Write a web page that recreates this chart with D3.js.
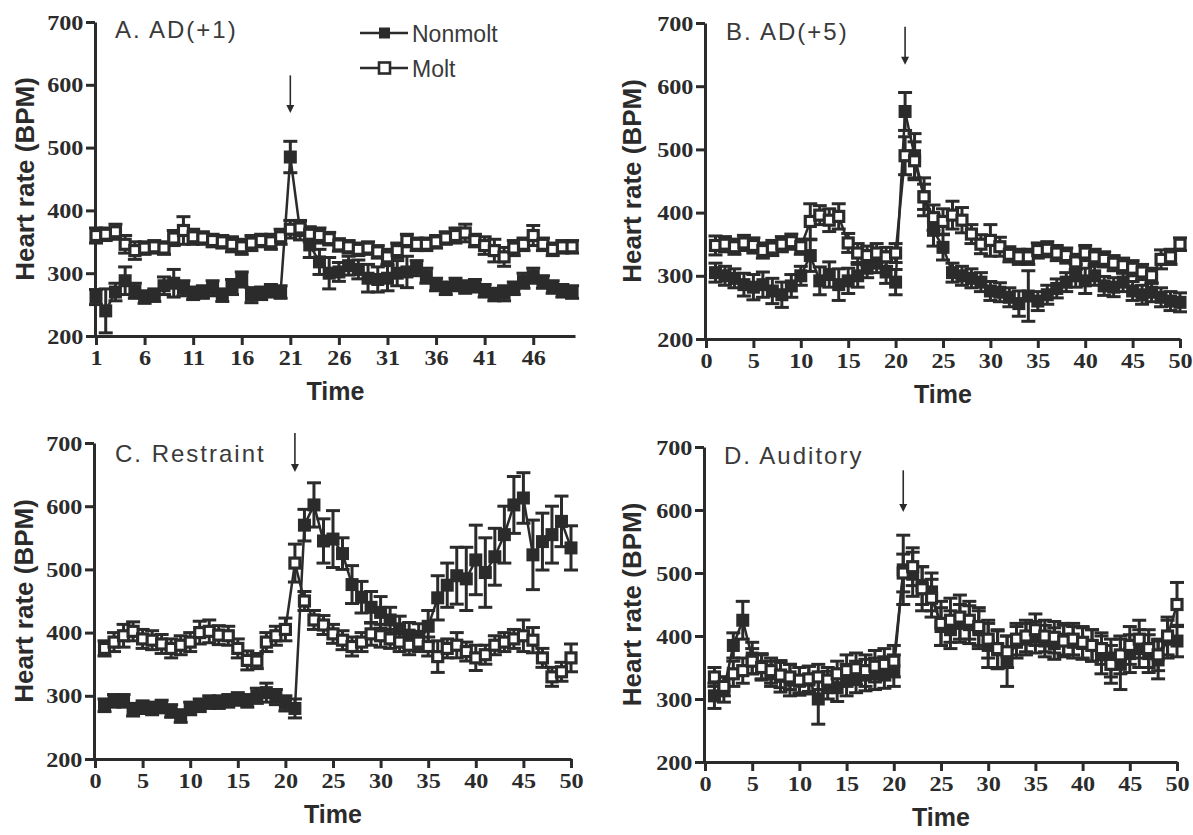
<!DOCTYPE html>
<html>
<head>
<meta charset="utf-8">
<script src="https://cdn.jsdelivr.net/npm/d3@7"></script>
<style>
  body { margin: 0; background: #fff; }
  svg { display: block; }
</style>
</head>
<body>
<div id="chart"></div>
<script>
// time points (minutes) and tick labels
const timePoints = d3.range(1, 51);
const xTicksA = [1, 6, 11, 16, 21, 26, 31, 36, 41, 46];
const xTicksBCD = [0, 5, 10, 15, 20, 25, 30, 35, 40, 45, 50];
const yTicks = [200, 300, 400, 500, 600, 700];
const seriesNames = ["Nonmolt", "Molt"];

// A. AD(+1)
const aNonmolt = [262, 240, 270, 288, 272, 262, 265, 280, 284, 276, 268, 270, 276, 265, 278, 290, 265, 268, 272, 270,
  485, 368, 345, 318, 300, 302, 312, 306, 292, 290, 292, 300, 302, 308, 296, 282, 276, 282, 278, 280,
  272, 266, 268, 276, 288, 296, 286, 278, 272, 270];
const aNonmoltErr = [12, 35, 14, 22, 12, 10, 10, 14, 22, 12, 10, 10, 12, 10, 12, 12, 12, 10, 10, 10,
  25, 15, 20, 20, 25, 15, 15, 15, 22, 20, 20, 20, 25, 12, 12, 10, 10, 10, 10, 10,
  10, 10, 12, 10, 12, 12, 10, 10, 10, 10];
const aMolt = [360, 362, 366, 346, 336, 340, 342, 340, 356, 368, 358, 356, 352, 350, 346, 342, 348, 352, 350, 358,
  370, 372, 362, 360, 355, 345, 342, 338, 340, 334, 326, 336, 352, 346, 346, 350, 356, 360, 364, 352,
  344, 336, 326, 340, 346, 360, 346, 338, 342, 342];
const aMoltErr = [12, 10, 12, 14, 14, 10, 10, 10, 12, 22, 12, 10, 10, 10, 12, 12, 12, 10, 12, 12,
  14, 12, 12, 12, 10, 10, 10, 10, 10, 10, 12, 12, 10, 10, 10, 10, 10, 12, 14, 10,
  14, 18, 15, 12, 10, 16, 10, 10, 10, 10];

// B. AD(+5)
const bNonmolt = [305, 300, 296, 286, 282, 286, 276, 270, 284, 300, 332, 292, 302, 286, 292, 300, 312, 320, 306, 290,
  560, 490, 425, 372, 345, 305, 300, 296, 290, 276, 274, 266, 256, 268, 260, 270, 280, 290, 300, 292,
  300, 284, 282, 290, 276, 270, 274, 266, 260, 258];
const bNonmoltErr = [15, 15, 15, 18, 20, 20, 20, 20, 18, 15, 25, 22, 20, 25, 20, 18, 15, 15, 18, 20,
  30, 35, 30, 25, 20, 15, 15, 15, 15, 15, 15, 15, 20, 40, 15, 15, 15, 15, 18, 20,
  15, 15, 15, 15, 15, 15, 15, 15, 15, 15];
const bMolt = [348, 350, 346, 352, 348, 340, 344, 350, 354, 346, 386, 396, 388, 394, 352, 336, 332, 336, 330, 336,
  490, 482, 425, 392, 386, 396, 388, 366, 350, 356, 346, 334, 330, 330, 340, 342, 336, 332, 322, 336,
  330, 326, 320, 316, 312, 306, 300, 326, 330, 350];
const bMoltErr = [15, 12, 12, 12, 12, 12, 12, 12, 12, 12, 28, 15, 18, 20, 15, 15, 15, 15, 15, 15,
  30, 30, 20, 20, 20, 22, 20, 15, 15, 25, 15, 12, 12, 12, 12, 12, 12, 12, 12, 12,
  12, 12, 12, 12, 12, 12, 12, 15, 12, 10];

// C. Restraint
const cNonmolt = [285, 292, 292, 278, 282, 280, 283, 276, 268, 280, 285, 290, 290, 292, 295, 292, 300, 305, 298, 288,
  280, 570, 602, 545, 548, 525, 476, 456, 440, 432, 420, 406, 396, 394, 410, 455, 475, 490, 485, 515,
  495, 520, 555, 602, 613, 523, 544, 555, 576, 534];
const cNonmoltErr = [10, 10, 10, 10, 10, 10, 10, 10, 10, 10, 10, 10, 10, 10, 10, 10, 12, 15, 12, 12,
  15, 25, 35, 35, 45, 25, 30, 25, 25, 25, 20, 20, 20, 20, 25, 35, 35, 45, 50, 55,
  55, 45, 45, 45, 40, 55, 45, 45, 40, 35];
const cMolt = [375, 385, 395, 402, 390, 388, 382, 375, 380, 385, 400, 402, 396, 395, 375, 356, 355, 385, 395, 405,
  510, 450, 420, 412, 398, 388, 378, 385, 398, 395, 390, 385, 380, 385, 378, 362, 375, 380, 370, 360,
  365, 380, 385, 390, 395, 388, 360, 330, 338, 360];
const cMoltErr = [12, 15, 18, 15, 15, 15, 15, 15, 15, 15, 18, 18, 15, 15, 15, 15, 12, 15, 15, 18,
  30, 15, 15, 15, 15, 15, 15, 15, 18, 18, 15, 15, 15, 15, 15, 25, 15, 20, 15, 20,
  15, 15, 15, 15, 25, 20, 15, 15, 15, 22];

// D. Auditory
const dNonmolt = [305, 315, 385, 425, 365, 352, 340, 336, 330, 328, 330, 300, 322, 318, 330, 335, 338, 340, 342, 345,
  505, 498, 480, 470, 415, 410, 420, 418, 410, 385, 378, 360, 390, 395, 398, 392, 388, 395, 390, 388,
  385, 370, 365, 355, 372, 380, 372, 362, 395, 392];
const dNonmoltErr = [20, 20, 20, 30, 25, 20, 20, 25, 25, 22, 22, 40, 22, 22, 25, 25, 25, 25, 25, 25,
  55, 35, 30, 30, 30, 30, 30, 30, 30, 35, 30, 40, 25, 25, 25, 25, 25, 25, 25, 25,
  25, 30, 30, 40, 30, 30, 30, 30, 30, 25];
const dMolt = [335, 320, 340, 345, 360, 350, 345, 338, 335, 330, 332, 335, 330, 340, 345, 348, 345, 352, 355, 360,
  500, 510, 475, 460, 420, 425, 430, 425, 415, 395, 380, 375, 395, 400, 410, 400, 398, 392, 395, 390,
  385, 380, 355, 370, 385, 395, 380, 370, 400, 450];
const dMoltErr = [15, 15, 20, 20, 20, 20, 20, 20, 20, 20, 20, 20, 20, 20, 25, 25, 25, 25, 25, 25,
  30, 30, 35, 30, 35, 35, 35, 30, 30, 30, 30, 25, 25, 25, 25, 25, 25, 25, 25, 25,
  25, 25, 30, 30, 30, 30, 30, 25, 30, 35];

const panels = [
  { title: "A. AD(+1)", x0: 96, x1: 575, yTop: 22, yBot: 336, xDomain: [1, 50.3], xTicks: xTicksA,
    titleX: 115, titleY: 38, yLabelX: 25, arrow: [615, 555],
    nonmolt: aNonmolt, nonmoltErr: aNonmoltErr, molt: aMolt, moltErr: aMoltErr, legend: true },
  { title: "B. AD(+5)", x0: 706, x1: 1180, yTop: 23, yBot: 339, xDomain: [0, 50], xTicks: xTicksBCD,
    titleX: 726, titleY: 40, yLabelX: 632, arrow: [694, 634],
    nonmolt: bNonmolt, nonmoltErr: bNonmoltErr, molt: bMolt, moltErr: bMoltErr },
  { title: "C. Restraint", x0: 95, x1: 571, yTop: 443, yBot: 759, xDomain: [0, 50], xTicks: xTicksBCD,
    titleX: 115, titleY: 462, yLabelX: 24, arrow: [716, 654],
    nonmolt: cNonmolt, nonmoltErr: cNonmoltErr, molt: cMolt, moltErr: cMoltErr },
  { title: "D. Auditory", x0: 705, x1: 1177, yTop: 447, yBot: 762, xDomain: [0, 50], xTicks: xTicksBCD,
    titleX: 724, titleY: 464, yLabelX: 632, arrow: [663, 597],
    nonmolt: dNonmolt, nonmoltErr: dNonmoltErr, molt: dMolt, moltErr: dMoltErr }
];

const ink = "#2b2b2b";
const W = 1193, H = 835;
const mkFilled = 13;  // filled marker size
const mkOpen = 10;    // open marker size (plus its thick outline)
const cap = 7;        // half width of error caps

const svg = d3.select("#chart").append("svg")
  .attr("width", W)
  .attr("height", H)
  .style("background", "#fff");

panels.forEach(p => drawPanel(p));

function drawPanel(p) {
  const x = d3.scaleLinear().domain(p.xDomain).range([p.x0, p.x1]);
  const y = d3.scaleLinear().domain([200, 700]).range([p.yBot, p.yTop]);
  const g = svg.append("g");

  // axes
  const yAxis = g.append("g")
    .attr("transform", `translate(${p.x0 - 1},0)`)
    .call(d3.axisLeft(y).tickValues(yTicks).tickSize(9).tickPadding(3).tickSizeOuter(0));
  const xAxis = g.append("g")
    .attr("transform", `translate(0,${p.yBot})`)
    .call(d3.axisBottom(x).tickValues(p.xTicks).tickSize(9).tickPadding(4).tickSizeOuter(0));

  [yAxis, xAxis].forEach(ax => {
    ax.select(".domain").attr("stroke", ink).attr("stroke-width", 3);
    ax.selectAll(".tick line").attr("stroke", ink).attr("stroke-width", 3);
    ax.selectAll(".tick text")
      .attr("fill", ink)
      .style("font-family", "'Liberation Serif', 'DejaVu Serif', serif")
      .style("font-weight", "bold")
      .style("font-size", "22px");
  });
  // tick digits in the reference are drawn a little wide
  yAxis.selectAll(".tick text").attr("transform", "scale(1.1,1)").attr("x", -10.5);
  xAxis.selectAll(".tick text").attr("transform", "scale(1.1,1)");

  // axis titles
  g.append("text")
    .attr("transform", `translate(${p.yLabelX},${(p.yTop + p.yBot) / 2}) rotate(-90)`)
    .attr("text-anchor", "middle")
    .attr("dy", "0.35em")
    .attr("fill", ink)
    .style("font-family", "'Liberation Sans', Arial, sans-serif")
    .style("font-weight", "bold")
    .style("font-size", "26px")
    .text("Heart rate (BPM)");
  g.append("text")
    .attr("x", (p.x0 + p.x1) / 2)
    .attr("y", p.yBot + 64)
    .attr("text-anchor", "middle")
    .attr("fill", ink)
    .style("font-family", "'Liberation Sans', Arial, sans-serif")
    .style("font-weight", "bold")
    .style("font-size", "25px")
    .text("Time");

  // panel title
  g.append("text")
    .attr("x", p.titleX)
    .attr("y", p.titleY)
    .attr("fill", "#3a3a3a")
    .style("font-family", "'Liberation Sans', Arial, sans-serif")
    .style("font-size", "24px")
    .style("letter-spacing", "2px")
    .text(p.title);

  // stimulus arrow at t = 21
  const ax = x(21);
  g.append("line")
    .attr("x1", ax).attr("x2", ax)
    .attr("y1", y(p.arrow[0])).attr("y2", y(p.arrow[1]) - 6)
    .attr("stroke", ink).attr("stroke-width", 1.6);
  g.append("path")
    .attr("d", `M${ax - 4},${y(p.arrow[1]) - 8} L${ax + 4},${y(p.arrow[1]) - 8} L${ax},${y(p.arrow[1])} Z`)
    .attr("fill", ink);

  const series = [
    { vals: p.nonmolt, err: p.nonmoltErr, filled: true },
    { vals: p.molt, err: p.moltErr, filled: false }
  ];

  const line = d3.line().x((d, i) => x(timePoints[i])).y(d => y(d));
  series.forEach(s => {
    const sg = g.append("g");
    const pts = s.vals.map((v, i) => ({ t: timePoints[i], v: v, e: s.err[i] }));
    const size = s.filled ? mkFilled : mkOpen;

    sg.append("path")
      .attr("d", line(s.vals))
      .attr("fill", "none")
      .attr("stroke", ink)
      .attr("stroke-width", 2.5);

    // error bars
    const eb = sg.selectAll("g.err").data(pts).join("g").attr("class", "err");
    eb.append("line")
      .attr("x1", d => x(d.t)).attr("x2", d => x(d.t))
      .attr("y1", d => y(d.v - d.e)).attr("y2", d => y(d.v + d.e))
      .attr("stroke", ink).attr("stroke-width", 3);
    eb.append("line")
      .attr("x1", d => x(d.t) - cap).attr("x2", d => x(d.t) + cap)
      .attr("y1", d => y(d.v + d.e)).attr("y2", d => y(d.v + d.e))
      .attr("stroke", ink).attr("stroke-width", 3);
    eb.append("line")
      .attr("x1", d => x(d.t) - cap).attr("x2", d => x(d.t) + cap)
      .attr("y1", d => y(d.v - d.e)).attr("y2", d => y(d.v - d.e))
      .attr("stroke", ink).attr("stroke-width", 3);

    // markers
    sg.selectAll("rect.mk").data(pts).join("rect")
      .attr("class", "mk")
      .attr("x", d => x(d.t) - size / 2)
      .attr("y", d => y(d.v) - size / 2)
      .attr("width", size).attr("height", size)
      .attr("fill", s.filled ? ink : "#fff")
      .attr("stroke", ink)
      .attr("stroke-width", s.filled ? 0 : 3.2);
  });

  if (p.legend) drawLegend(g);
}

function drawLegend(g) {
  const rows = [
    { name: seriesNames[0], filled: true, y: 33 },
    { name: seriesNames[1], filled: false, y: 68 }
  ];
  rows.forEach(r => {
    g.append("line")
      .attr("x1", 360).attr("x2", 408)
      .attr("y1", r.y).attr("y2", r.y)
      .attr("stroke", ink).attr("stroke-width", 2.5);
    g.append("rect")
      .attr("x", 379).attr("y", r.y - 5.5)
      .attr("width", 11).attr("height", 11)
      .attr("fill", r.filled ? ink : "#fff")
      .attr("stroke", ink)
      .attr("stroke-width", r.filled ? 0 : 2.6);
    g.append("text")
      .attr("x", 412).attr("y", r.y + 9)
      .attr("fill", "#3a3a3a")
      .style("font-family", "'Liberation Sans', Arial, sans-serif")
      .style("font-size", "23px")
      .text(r.name);
  });
}
</script>
</body>
</html>
